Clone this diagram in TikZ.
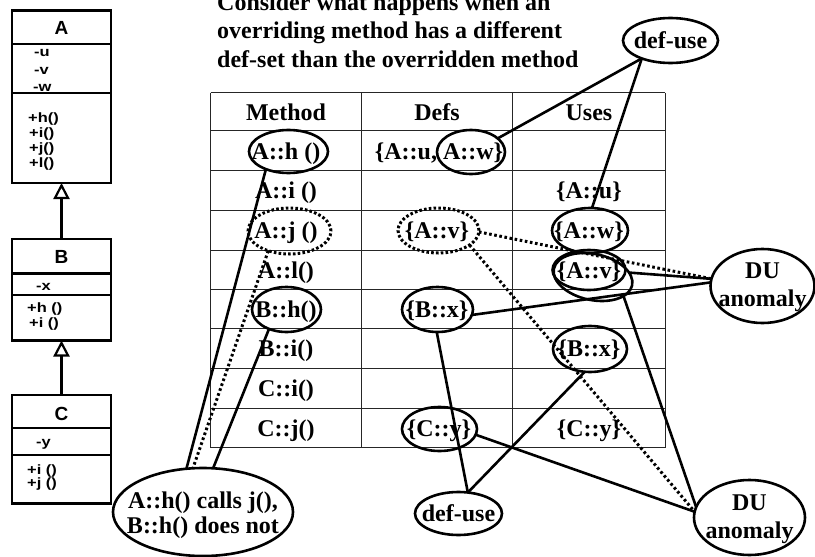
\documentclass[tikz,border=0pt]{standalone}
\usepackage{fontspec}
\usepackage{graphicx}
\setmainfont{Liberation Serif}
\newfontfamily\arl{Liberation Sans}
\usetikzlibrary{shapes.geometric,arrows.meta}
\newcommand\wideuml[1]{\scalebox{1.22}[1]{#1}}
\begin{document}
\begin{tikzpicture}[x=1pt,y=-1pt,
  tf/.style={font=\bfseries\fontsize{24}{28}\selectfont, inner sep=0},
  cell/.style={tf, text height=16.6pt, text depth=0pt, anchor=center},
  ov/.style={ellipse, draw, line width=2.6pt, inner sep=0, outer sep=0},
  dov/.style={ov, line width=3pt, dash pattern=on 2.6pt off 2.2pt},
  conn/.style={line width=2.6pt},
  dconn/.style={line width=3pt, dash pattern=on 2.6pt off 2.6pt},
  tgrid/.style={line width=1pt, black!85},
  umlbox/.style={draw, line width=2.2pt, rectangle, inner sep=0, outer sep=0, minimum width=99pt},
  umlsep/.style={line width=2.2pt},
  umlname/.style={font=\arl\bfseries\fontsize{19}{19}\selectfont, inner sep=0, anchor=base},
  umlt/.style={font=\arl\bfseries\fontsize{13.5}{13.5}\selectfont, inner sep=0, anchor=base west},
  inh/.style={line width=2.2pt, -{Triangle[open,length=16pt,width=16pt]}}
]
\useasboundingbox (0,0) rectangle (815,557);

% ---------- UML classes ----------
\node[umlbox, minimum height=172.5pt] (A) at (61.5,96.75) {};
\draw[umlsep] (12,44) -- (111,44);
\draw[umlsep] (12,93) -- (111,93);
\node[umlname] (An) at (61.5,34.5) {A};
\node[umlt] (Au) at (34,56) {\wideuml{-u}};
\node[umlt] (Av) at (34,74.5) {\wideuml{-v}};
\node[umlt] (Aw) at (33,91.5) {\wideuml{-w}};
\node[umlt] (Ah) at (28,122) {\wideuml{+h()}};
\node[umlt] (Ai) at (29,137) {\wideuml{+i()}};
\node[umlt] (Aj) at (29,152) {\wideuml{+j()}};
\node[umlt] (Al) at (29,167) {\wideuml{+l()}};

\node[umlbox, minimum height=101.5pt] (B) at (61.5,289.75) {};
\draw[umlsep] (12,273.5) -- (111,273.5);
\draw[umlsep] (12,295) -- (111,295);
\node[umlname] (Bn) at (61.5,263) {B};
\node[umlt] (Bx) at (36,290) {\wideuml{-x}};
\node[umlt] (Bh) at (27,312.5) {\wideuml{+h ()}};
\node[umlt] (Bi) at (29,327.5) {\wideuml{+i ()}};

\node[umlbox, minimum height=108.5pt] (C) at (61.5,449.25) {};
\draw[umlsep] (12,428.3) -- (111,428.3);
\draw[umlsep] (12,455) -- (111,455);
\node[umlname] (Cn) at (61.5,420) {C};
\node[umlt] (Cy) at (36,446) {\wideuml{-y}};
\node[umlt] (Ci) at (27,474.5) {\wideuml{+i ()}};
\node[umlt] (Cj) at (27,487.5) {\wideuml{+j ()}};

\draw[inh] (B.north) -- (A.south);
\draw[inh] (C.north) -- (B.south);

% ---------- title ----------
\node[tf, anchor=base west] (t1) at (217,10) {Consider what happens when an};
\node[tf, anchor=base west] (t2) at (217,38.5) {overriding method has a different};
\node[tf, anchor=base west] (t3) at (217,67) {def-set than the overridden method};

% ---------- table ----------
\foreach \yy in {92.7,130.7,170.7,210,250,289.3,328.7,368.3,408.3,447.7}
  \draw[tgrid] (210.7,\yy) -- (665,\yy);
\foreach \xx in {210.7,361.7,512.7,665}
  \draw[tgrid] (\xx,92.7) -- (\xx,447.7);

\node[cell] (hM) at (286,111.7) {Method};
\node[cell] (hD) at (437,111.7) {Defs};
\node[cell] (hU) at (589,111.7) {Uses};

\node[cell] (m1) at (286,150.7) {A::h ()};
\node[cell] (m2) at (286,190.3) {A::i ()};
\node[cell] (m3) at (286,230) {A::j ()};
\node[cell] (m4) at (286,269.7) {A::l()};
\node[cell] (m5) at (286,309) {B::h()};
\node[cell] (m6) at (286,348.5) {B::i()};
\node[cell] (m7) at (286,388.3) {C::i()};
\node[cell] (m8) at (286,428) {C::j()};

\node[cell] (d1) at (439,150.7) {\{A::u, A::w\}};
\node[cell] (d3) at (437,230) {\{A::v\}};
\node[cell] (d5) at (437,309) {\{B::x\}};
\node[cell] (d8) at (439,428) {\{C::y\}};

\node[cell] (u2) at (589,190.3) {\{A::u\}};
\node[cell] (u3) at (589,230) {\{A::w\}};
\node[cell] (u4) at (589,269.7) {\{A::v\}};
\node[cell] (u6) at (589,348.5) {\{B::x\}};
\node[cell] (u8) at (589,428) {\{C::y\}};

% ---------- ellipses over table ----------
\node[ov, minimum width=79pt, minimum height=43pt] (eAh) at (288.5,151.5) {};
\node[ov, minimum width=68pt, minimum height=44pt] (eAw) at (471,152) {};
\node[dov, minimum width=83pt, minimum height=46pt] (eAj) at (289.5,231) {};
\node[dov, minimum width=81pt, minimum height=45pt] (eAvD) at (438.5,230.5) {};
\node[ov, minimum width=69pt, minimum height=45pt] (eBh) at (286.5,309.5) {};
\node[ov, minimum width=71pt, minimum height=45pt] (eBxD) at (437.5,309.5) {};
\node[ov, minimum width=75pt, minimum height=44pt] (eCyD) at (439.5,429) {};
\node[ov, minimum width=76pt, minimum height=45pt] (eAwU) at (590,230.5) {};
\node[ov, minimum width=73pt, minimum height=40pt] (eAvU) at (589,270) {};
\node[ov, minimum width=80pt, minimum height=46pt, rotate=-12] (eAvU2) at (593,277) {};
\node[ov, minimum width=74pt, minimum height=46pt] (eBxU) at (590,349) {};

% ---------- label ellipses ----------
\node[ov, minimum width=95pt, minimum height=45pt] (defuseA) at (670.5,40.5) {};
\node[tf] (defuseAt) at (670.5,40.5) {def-use};
\node[ov, minimum width=104pt, minimum height=74pt] (anomA) at (762.5,286) {};
\node[tf, align=center] (anomAt) at (762.5,287) {DU\\anomaly};
\node[ov, minimum width=111pt, minimum height=75pt] (anomB) at (749.5,517.5) {};
\node[tf, align=center] (anomBt) at (749.5,519) {DU\\anomaly};
\node[ov, minimum width=87pt, minimum height=43pt] (defuseB) at (458.5,513.5) {};
\node[tf] (defuseBt) at (458.5,513.5) {def-use};
\node[ov, minimum width=180pt, minimum height=88pt] (calls) at (203,512) {};
\node[tf, align=center, font=\bfseries\fontsize{24}{25}\selectfont] (callst) at (203,515) {A::h() calls j(),\\B::h() does not};

% ---------- connectors ----------
\draw[conn] (eAw.27) -- (defuseA.212);
\draw[conn] (defuseA.212) -- (eAwU.85);
\draw[conn] (eAh.218) -- (calls.111);
\draw[dconn] (eAj.223) -- (calls.103);
\draw[conn] (eBh.228) -- (calls.77);
\draw[dconn] (eAvD.358) -- (anomA.172);
\draw[dconn] (eAvD.335) -- (anomB.174);
\draw[conn] (eAvU2.19) -- (anomA.172);
\draw[conn] (eBxD.351) -- (anomA.176);
\draw[conn] (eAvU2.340) -- (anomB.169);
\draw[conn] (eBxD.268) -- (defuseB.66);
\draw[conn] (eBxU.257) -- (defuseB.66);
\draw[conn] (eCyD.351) -- (anomB.174);
\end{tikzpicture}
\end{document}
